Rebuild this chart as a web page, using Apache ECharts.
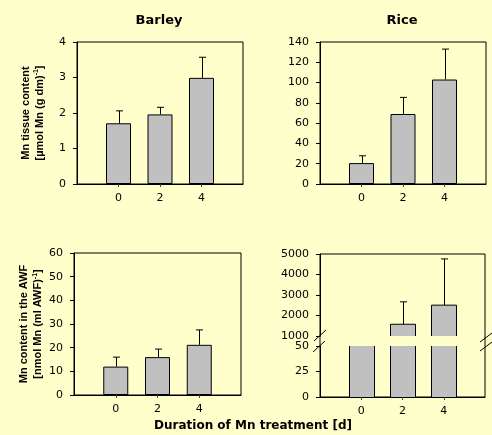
<!DOCTYPE html>
<html>
<head>
<meta charset="utf-8">
<script src="https://cdn.jsdelivr.net/npm/echarts@6/dist/echarts.min.js"></script>
<style>
html,body{margin:0;padding:0;background:#FFFFCC;}
#chart{width:492px;height:435px;}
</style>
</head>
<body>
<div id="chart"></div>
<script>
// days of Mn treatment
var days = [0, 2, 4];
var tickDays = [0, 2, 4];
// Mn tissue content
var barleyTissue = [1.71, 1.96, 2.99];
var barleyTissueSd = [0.35, 0.2, 0.58];
var riceTissue = [20.6, 69, 103];
var riceTissueSd = [7.2, 16.4, 30];
// Mn content in the AWF
var barleyAwf = [12, 16, 21.2];
var barleyAwfSd = [4, 3.4, 6.3];
var riceAwf = [400, 1573, 2505];
var riceAwfSd = [200, 1094, 2255];

var chart = echarts.init(document.getElementById('chart'));
var tickFont = 'DejaVu Sans';
var boldFont = 'DejaVu Sans';

function pairs(vals) {
    return days.map(function (d, i) { return [d, vals[i]]; });
}
function triples(vals, sd) {
    return days.map(function (d, i) { return [d, vals[i], sd[i]]; });
}

function renderErr(params, api) {
    var x = api.value(0), v = api.value(1), e = api.value(2);
    var p0 = api.coord([x, v]);
    var p1 = api.coord([x, v + e]);
    var cx = Math.round(p0[0]) + 0.5;
    var st = {stroke: '#000', lineWidth: 1};
    return {
        type: 'group',
        children: [
            {type: 'line', shape: {x1: cx, y1: p0[1], x2: cx, y2: p1[1]}, style: st},
            {type: 'line', shape: {x1: cx - 3.5, y1: p1[1], x2: cx + 3.5, y2: p1[1]}, style: st}
        ]
    };
}

// bar for the broken axis panel: no outline where it is cut by the grid
function renderBroken(params, api) {
    var cs = params.coordSys;
    var x = api.value(0), v = api.value(1);
    var pt = api.coord([x, v]);
    var pb = api.coord([x, 0]);
    var top = Math.max(pt[1], cs.y);
    var bottom = Math.min(pb[1], cs.y + cs.height);
    if (top >= bottom) return null;
    var l = Math.round(pt[0] - 12.5) + 0.5, r = l + 25;
    var st = {stroke: '#000', lineWidth: 1, fill: null};
    var kids = [{type: 'rect', shape: {x: l, y: top, width: r - l, height: bottom - top}, style: {fill: '#C0C0C0'}}];
    if (pt[1] >= cs.y) {
        kids.push({type: 'polyline', shape: {points: [[l, bottom], [l, top], [r, top], [r, bottom]]}, style: st});
    } else {
        kids.push({type: 'line', shape: {x1: l, y1: top, x2: l, y2: bottom}, style: st});
        kids.push({type: 'line', shape: {x1: r, y1: top, x2: r, y2: bottom}, style: st});
    }
    return {type: 'group', children: kids};
}

function xAxisOf(gi, labels) {
    return {
        gridIndex: gi, type: 'value', min: -2, max: 6, interval: 2,
        axisLine: {show: labels, onZero: false, lineStyle: {color: '#000'}},
        axisTick: {show: labels, customValues: tickDays, length: 3, lineStyle: {color: '#444'}},
        axisLabel: {show: labels, customValues: tickDays, margin: 9, fontSize: 11, fontFamily: tickFont, color: '#000'},
        splitLine: {show: false}
    };
}

function yAxisOf(gi, min, max, step, name, gap) {
    return {
        gridIndex: gi, type: 'value', min: min, max: max, interval: step,
        axisLine: {show: true, onZero: false, lineStyle: {color: '#000'}},
        axisTick: {show: true, length: 4, lineStyle: {color: '#000'}},
        axisLabel: {margin: 11, fontSize: 11, fontFamily: tickFont, color: '#000',
            formatter: function (v) { return String(v); }},
        splitLine: {show: false},
        name: name || '', nameLocation: 'middle', nameRotate: 90, nameGap: gap || 30,
        nameTextStyle: {
            fontFamily: 'Liberation Sans', fontWeight: 'bold', fontSize: 11, lineHeight: 14, color: '#000',
            rich: {s: {fontFamily: 'Liberation Sans', fontWeight: 'bold', fontSize: 7, lineHeight: 7, verticalAlign: 'top', color: '#000'}}
        }
    };
}

function bars(gi) {
    return {
        type: 'bar', xAxisIndex: gi, yAxisIndex: gi, barWidth: 25,
        itemStyle: {color: '#C0C0C0', borderColor: '#000', borderWidth: 1}
    };
}

var gridBox = {show: true, borderColor: '#000', borderWidth: 1, backgroundColor: 'transparent'};

var option = {
    backgroundColor: '#FFFFCC',
    animation: false,
    grid: [
        Object.assign({left: 77, top: 42, width: 166, height: 142}, gridBox),
        Object.assign({left: 320, top: 42, width: 166, height: 142}, gridBox),
        Object.assign({left: 74, top: 253, width: 167, height: 142}, gridBox),
        {left: 320, top: 254, width: 165, height: 82, show: false},
        {left: 320, top: 346, width: 165, height: 51, show: false},
        Object.assign({left: 320, top: 254, width: 165, height: 143}, gridBox)
    ],
    xAxis: [
        xAxisOf(0, true), xAxisOf(1, true), xAxisOf(2, true),
        xAxisOf(3, false), xAxisOf(4, true), xAxisOf(5, false)
    ],
    yAxis: [
        yAxisOf(0, 0, 4, 1, 'Mn tissue content\n[µmol Mn (g dm){s|-1}]', 30),
        yAxisOf(1, 0, 140, 20),
        yAxisOf(2, 0, 60, 10, 'Mn content in the AWF\n[nmol Mn (ml AWF){s|-1}]', 28),
        yAxisOf(3, 1000, 5000, 1000),
        yAxisOf(4, 0, 50, 25),
        {gridIndex: 5, type: 'value', show: false}
    ],
    series: [
        Object.assign(bars(0), {data: pairs(barleyTissue)}),
        {type: 'custom', xAxisIndex: 0, yAxisIndex: 0, renderItem: renderErr, data: triples(barleyTissue, barleyTissueSd), clip: true},
        Object.assign(bars(1), {data: pairs(riceTissue)}),
        {type: 'custom', xAxisIndex: 1, yAxisIndex: 1, renderItem: renderErr, data: triples(riceTissue, riceTissueSd), clip: true},
        Object.assign(bars(2), {data: pairs(barleyAwf)}),
        {type: 'custom', xAxisIndex: 2, yAxisIndex: 2, renderItem: renderErr, data: triples(barleyAwf, barleyAwfSd), clip: true},
        {type: 'custom', xAxisIndex: 3, yAxisIndex: 3, renderItem: renderBroken, data: pairs(riceAwf)},
        {type: 'custom', xAxisIndex: 3, yAxisIndex: 3, renderItem: renderErr, data: triples(riceAwf, riceAwfSd), clip: true},
        {type: 'custom', xAxisIndex: 4, yAxisIndex: 4, renderItem: renderBroken, data: pairs(riceAwf)}
    ],
    graphic: [
        {type: 'text', x: 159, y: 21, style: {text: 'Barley', fontFamily: boldFont, fontWeight: 'bold', fontSize: 13, fill: '#000', align: 'center', verticalAlign: 'middle'}},
        {type: 'text', x: 402, y: 21, style: {text: 'Rice', fontFamily: boldFont, fontWeight: 'bold', fontSize: 13, fill: '#000', align: 'center', verticalAlign: 'middle'}},
        {type: 'text', x: 253, y: 426, style: {text: 'Duration of Mn treatment [d]', fontFamily: boldFont, fontWeight: 'bold', fontSize: 12, fill: '#000', align: 'center', verticalAlign: 'middle'}},
        // axis break marks
        {type: 'line', z: 100, shape: {x1: 314, y1: 341, x2: 326, y2: 330}, style: {stroke: '#000', lineWidth: 1}},
        {type: 'line', z: 100, shape: {x1: 313, y1: 352, x2: 325, y2: 341}, style: {stroke: '#000', lineWidth: 1}},
        {type: 'line', z: 100, shape: {x1: 480, y1: 342, x2: 492, y2: 333}, style: {stroke: '#000', lineWidth: 1}},
        {type: 'line', z: 100, shape: {x1: 480, y1: 351, x2: 492, y2: 342}, style: {stroke: '#000', lineWidth: 1}}
    ]
};
chart.setOption(option);
</script>
</body>
</html>
